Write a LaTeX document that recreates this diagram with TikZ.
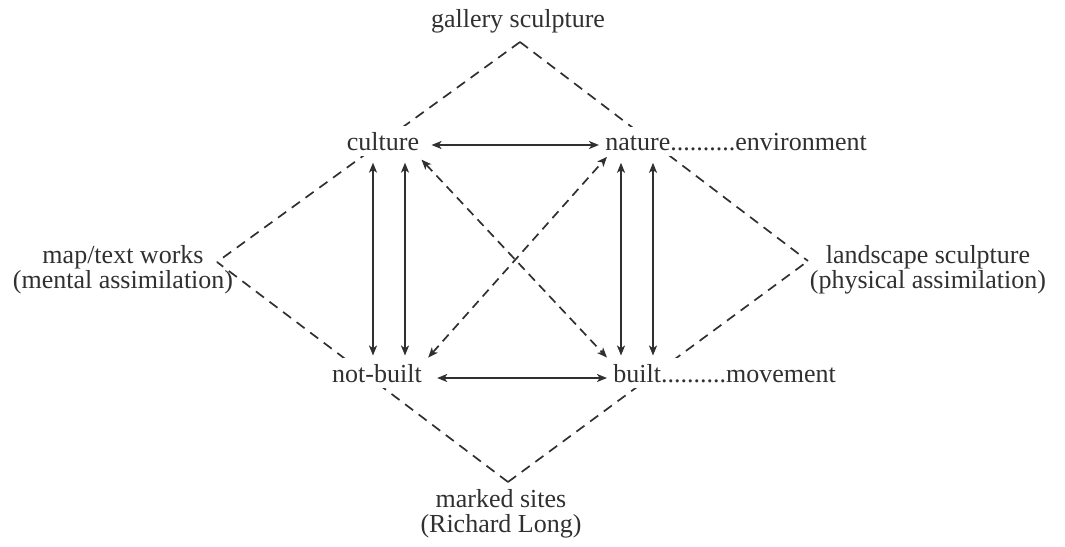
\documentclass[tikz,border=0pt]{standalone}
\usepackage{fontspec}
\setmainfont{Liberation Serif}
\usetikzlibrary{arrows.meta}
\definecolor{ink}{HTML}{303030}
\begin{document}
\begin{tikzpicture}[x=0.5pt,y=-0.5pt,
  lbl/.style={font=\fontsize{13pt}{12.5pt}\selectfont, text=ink, inner sep=3pt},
  cover/.style={fill=white},
  tip/.tip={Stealth[length=5pt,width=4pt,inset=1.3pt]},
  arr/.style={draw=ink, line width=0.85pt, tip-tip},
  darr/.style={arr, dash pattern=on 4.5pt off 3pt},
  dline/.style={draw=ink, line width=0.85pt, dash pattern=on 5pt off 3.5pt}]
\useasboundingbox (0,0) rectangle (1065,546);
% diamond vertices
\coordinate (apex) at (520,42);
\coordinate (lv) at (217,262);
\coordinate (rv) at (808,261);
\coordinate (bv) at (508,482);
\draw[dline] (apex) -- (lv);
\draw[dline] (apex) -- (rv);
\draw[dline] (bv) -- (lv);
\draw[dline] (bv) -- (rv);
% labels
\node[lbl,anchor=base] (gallery) at (518,27) {gallery sculpture};
\node[lbl,cover,anchor=base] (culture) at (383,150) {culture};
\node[lbl,cover,anchor=base west] (nature) at (599,150) {nature..........environment};
\node[lbl,cover,anchor=base] (notbuilt) at (377,382) {not-built};
\node[lbl,cover,anchor=base west] (built) at (607,382) {built..........movement};
\node[lbl,align=center,anchor=base] (map) at (123,288) {map/text works\\(mental assimilation)};
\node[lbl,align=center,anchor=base] (land) at (928,288) {landscape sculpture\\(physical assimilation)};
\node[lbl,align=center,anchor=base] (marked) at (501,532) {marked sites\\(Richard Long)};
% helper levels
\coordinate (h1) at (0,145);
\coordinate (h2) at (0,378);
\coordinate (va) at (373,0);
\coordinate (vb) at (405,0);
\coordinate (vc) at (621,0);
\coordinate (vd) at (653,0);
% horizontal arrows
\draw[arr, shorten <=3pt] (culture.east |- h1) -- (nature.west |- h1);
\draw[arr, shorten <=4.5pt] (notbuilt.east |- h2) -- (built.west |- h2);
% vertical arrows
\draw[arr, shorten <=3pt, shorten >=1pt] (culture.south -| va) -- (notbuilt.north -| va);
\draw[arr, shorten <=3pt, shorten >=1pt] (culture.south -| vb) -- (notbuilt.north -| vb);
\draw[arr, shorten <=3pt, shorten >=1pt] (nature.south -| vc) -- (built.north -| vc);
\draw[arr, shorten <=3pt, shorten >=1pt] (nature.south -| vd) -- (built.north -| vd);
% diagonal dashed arrows
\draw[darr] ([xshift=-2pt,yshift=-1.5pt]culture.south east) -- (built.north west);
\draw[darr] (notbuilt.north east) -- ([xshift=4pt]nature.south west);
\end{tikzpicture}
\end{document}
